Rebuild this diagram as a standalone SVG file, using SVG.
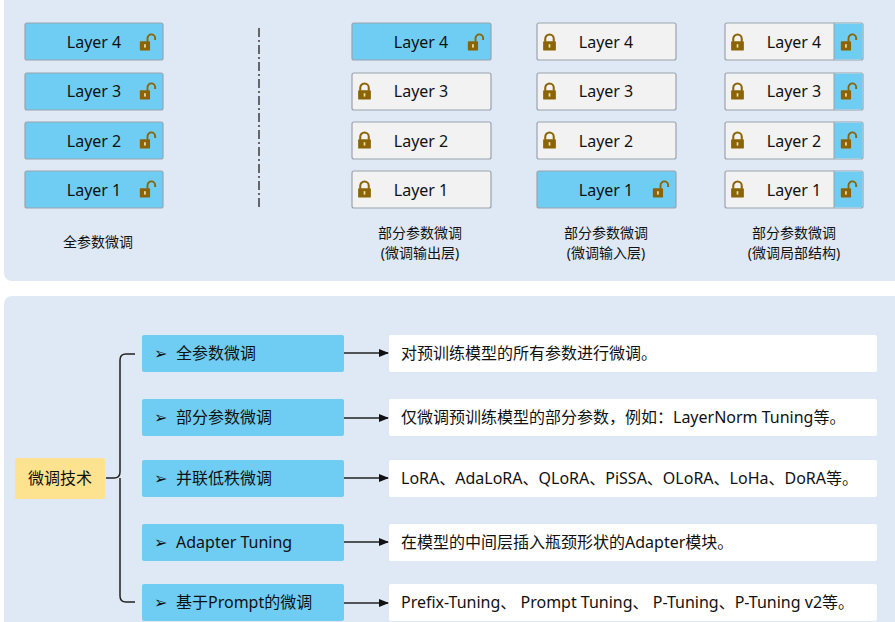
<svg xmlns="http://www.w3.org/2000/svg" xmlns:xlink="http://www.w3.org/1999/xlink" width="895" height="622" viewBox="0 0 895 622">
<style>
.panel{fill:#dfe9f5}
.blue{fill:#6fcdf4;stroke:#9aa3ad;stroke-width:1.2}
.grey{fill:#f2f2f2;stroke:#9aa3ad;stroke-width:1.2}
.t{font-family:"Noto Sans","Noto Sans CJK SC",sans-serif;font-size:16px;fill:#111}
.s{font-size:14px}
.c{text-anchor:middle}
.bb{fill:#6fcdf4}
.wb{fill:#ffffff}
.lk{fill:#8a6407}
.ln{fill:none;stroke:#222;stroke-width:1.5}
</style>
<defs>
<symbol id="lock" viewBox="0 0 20 22" overflow="visible">
<path d="M5 10V6.5a5 5 0 0 1 10 0V10" fill="none" stroke="#8a6407" stroke-width="2.4"/>
<rect x="2.5" y="9.5" width="15" height="11" rx="1" class="lk"/>
<rect x="9" y="13" width="2" height="4" fill="#f2e0a0"/>
</symbol>
<symbol id="unlock" viewBox="0 0 20 22" overflow="visible">
<path d="M10 10V6a4.5 4.5 0 0 1 9 0V8" fill="none" stroke="#8a6407" stroke-width="2.2"/>
<rect x="1" y="9.5" width="12" height="11" rx="1" class="lk"/>
<rect x="6" y="13" width="2" height="4" fill="#f2e0a0"/>
</symbol>
<marker id="ar" markerWidth="10" markerHeight="10" refX="9" refY="5" orient="auto" markerUnits="userSpaceOnUse"><path d="M0 1L10 5L0 9z" fill="#111"/></marker>
</defs>
<rect width="895" height="622" fill="#ffffff"/>
<rect class="panel" x="4" y="-10" width="900" height="291" rx="8"/>
<rect class="panel" x="4" y="296" width="900" height="340" rx="8"/>
<line x1="259" y1="28" x2="259" y2="210" stroke="#666" stroke-width="2" stroke-dasharray="9,3,2,3"/>
<g id="col1">
<rect class="blue" x="25" y="23" width="138" height="37" rx="2"/><text class="t c" x="94" y="48">Layer 4</text><use href="#unlock" x="139" y="33" width="17" height="19"/>
<rect class="blue" x="25" y="73" width="138" height="37" rx="2"/><text class="t c" x="94" y="97">Layer 3</text><use href="#unlock" x="139" y="82" width="17" height="19"/>
<rect class="blue" x="25" y="122" width="138" height="37" rx="2"/><text class="t c" x="94" y="147">Layer 2</text><use href="#unlock" x="139" y="131" width="17" height="19"/>
<rect class="blue" x="25" y="171" width="138" height="37" rx="2"/><text class="t c" x="94" y="196">Layer 1</text><use href="#unlock" x="139" y="180" width="17" height="19"/>
<text class="t c s" x="98" y="247">全参数微调</text>
</g>
<g id="col2">
<rect class="blue" x="352" y="23" width="139" height="37" rx="2"/><text class="t c" x="421" y="48">Layer 4</text><use href="#unlock" x="467" y="33" width="17" height="19"/>
<rect class="grey" x="352" y="73" width="139" height="37" rx="2"/><text class="t c" x="421" y="97">Layer 3</text><use href="#lock" x="356" y="82" width="17" height="19"/>
<rect class="grey" x="352" y="122" width="139" height="37" rx="2"/><text class="t c" x="421" y="147">Layer 2</text><use href="#lock" x="356" y="131" width="17" height="19"/>
<rect class="grey" x="352" y="171" width="139" height="37" rx="2"/><text class="t c" x="421" y="196">Layer 1</text><use href="#lock" x="356" y="180" width="17" height="19"/>
<text class="t c s" x="420" y="238">部分参数微调</text><text class="t c s" x="420" y="258">(微调输出层)</text>
</g>
<g id="col3">
<rect class="grey" x="537" y="23" width="139" height="37" rx="2"/><text class="t c" x="606" y="48">Layer 4</text><use href="#lock" x="541" y="33" width="17" height="19"/>
<rect class="grey" x="537" y="73" width="139" height="37" rx="2"/><text class="t c" x="606" y="97">Layer 3</text><use href="#lock" x="541" y="82" width="17" height="19"/>
<rect class="grey" x="537" y="122" width="139" height="37" rx="2"/><text class="t c" x="606" y="147">Layer 2</text><use href="#lock" x="541" y="131" width="17" height="19"/>
<rect class="blue" x="537" y="171" width="139" height="37" rx="2"/><text class="t c" x="606" y="196">Layer 1</text><use href="#unlock" x="652" y="180" width="17" height="19"/>
<text class="t c s" x="606" y="238">部分参数微调</text><text class="t c s" x="606" y="258">(微调输入层)</text>
</g>
<g id="col4">
<rect class="grey" x="725" y="23" width="138" height="37" rx="2"/><rect class="bb" x="834" y="23.6" width="28.4" height="35.8"/><line x1="834" y1="23" x2="834" y2="60" stroke="#9aa3ad"/><text class="t c" x="794" y="48">Layer 4</text><use href="#lock" x="729" y="33" width="17" height="19"/><use href="#unlock" x="840" y="33" width="17" height="19"/>
<rect class="grey" x="725" y="73" width="138" height="37" rx="2"/><rect class="bb" x="834" y="73.6" width="28.4" height="35.8"/><line x1="834" y1="73" x2="834" y2="110" stroke="#9aa3ad"/><text class="t c" x="794" y="97">Layer 3</text><use href="#lock" x="729" y="82" width="17" height="19"/><use href="#unlock" x="840" y="82" width="17" height="19"/>
<rect class="grey" x="725" y="122" width="138" height="37" rx="2"/><rect class="bb" x="834" y="122.6" width="28.4" height="35.8"/><line x1="834" y1="122" x2="834" y2="159" stroke="#9aa3ad"/><text class="t c" x="794" y="147">Layer 2</text><use href="#lock" x="729" y="131" width="17" height="19"/><use href="#unlock" x="840" y="131" width="17" height="19"/>
<rect class="grey" x="725" y="171" width="138" height="37" rx="2"/><rect class="bb" x="834" y="171.6" width="28.4" height="35.8"/><line x1="834" y1="171" x2="834" y2="208" stroke="#9aa3ad"/><text class="t c" x="794" y="196">Layer 1</text><use href="#lock" x="729" y="180" width="17" height="19"/><use href="#unlock" x="840" y="180" width="17" height="19"/>
<text class="t c s" x="794" y="238">部分参数微调</text><text class="t c s" x="794" y="258">(微调局部结构)</text>
</g>
<g id="connectors">
<path class="ln" d="M135 354H126Q120 354 120 360V472Q120 478 114 478H106M120 478Q120 478 120 484V596Q120 602 126 602H135"/>
<line class="ln" x1="344" y1="353" x2="388" y2="353" marker-end="url(#ar)"/>
<line class="ln" x1="344" y1="418" x2="388" y2="418" marker-end="url(#ar)"/>
<line class="ln" x1="344" y1="478" x2="388" y2="478" marker-end="url(#ar)"/>
<line class="ln" x1="344" y1="542" x2="388" y2="542" marker-end="url(#ar)"/>
<line class="ln" x1="344" y1="603" x2="388" y2="603" marker-end="url(#ar)"/>
</g>
<g id="root"><rect x="15" y="458" width="90" height="41" rx="2" fill="#fde38f"/><text class="t c" x="60" y="484">微调技术</text></g>
<g id="n1"><rect class="bb" x="142" y="335" width="202" height="37" rx="2"/><text class="t" x="154" y="359" font-size="13">➢</text><text class="t" x="176" y="359">全参数微调</text></g>
<g id="n2"><rect class="bb" x="142" y="399" width="202" height="37" rx="2"/><text class="t" x="154" y="423" font-size="13">➢</text><text class="t" x="176" y="423">部分参数微调</text></g>
<g id="n3"><rect class="bb" x="142" y="460" width="202" height="37" rx="2"/><text class="t" x="154" y="484" font-size="13">➢</text><text class="t" x="176" y="484">并联低秩微调</text></g>
<g id="n4"><rect class="bb" x="142" y="524" width="202" height="37" rx="2"/><text class="t" x="154" y="548" font-size="13">➢</text><text class="t" x="176" y="548">Adapter Tuning</text></g>
<g id="n5"><rect class="bb" x="142" y="584" width="202" height="37" rx="2"/><text class="t" x="154" y="608" font-size="13">➢</text><text class="t" x="176" y="608">基于Prompt的微调</text></g>
<g id="d1"><rect class="wb" x="389" y="335" width="488" height="37" rx="2"/><text class="t" x="401" y="359">对预训练模型的所有参数进行微调。</text></g>
<g id="d2"><rect class="wb" x="389" y="399" width="488" height="37" rx="2"/><text class="t" x="401" y="423">仅微调预训练模型的部分参数，例如：LayerNorm Tuning等。</text></g>
<g id="d3"><rect class="wb" x="389" y="460" width="488" height="37" rx="2"/><text class="t" x="401" y="484">LoRA、AdaLoRA、QLoRA、PiSSA、OLoRA、LoHa、DoRA等。</text></g>
<g id="d4"><rect class="wb" x="389" y="524" width="488" height="37" rx="2"/><text class="t" x="401" y="548">在模型的中间层插入瓶颈形状的Adapter模块。</text></g>
<g id="d5"><rect class="wb" x="389" y="584" width="488" height="37" rx="2"/><text class="t" x="401" y="608">Prefix-Tuning、 Prompt Tuning、 P-Tuning、P-Tuning v2等。</text></g>
</svg>
